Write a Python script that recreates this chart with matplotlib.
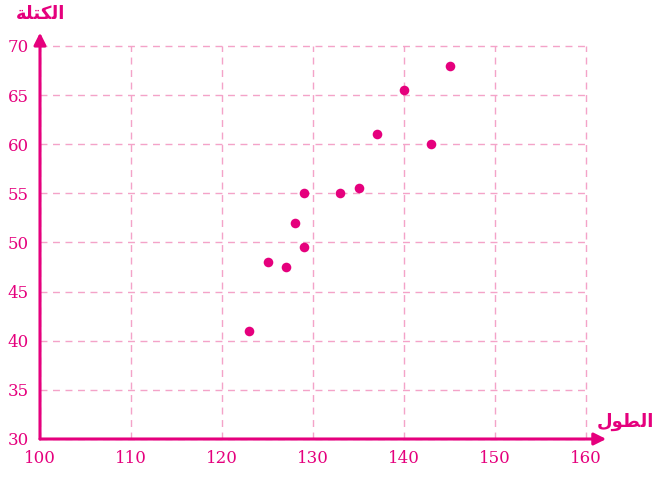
import matplotlib
matplotlib.use("Agg")
import matplotlib.pyplot as plt

MAG = "#e5007d"
GRID = "#f4a3c8"

# data
height = [123, 125, 127, 128, 129, 129, 133, 135, 137, 140, 143, 145]
mass = [41, 48, 47.5, 52, 49.5, 55, 55, 55.5, 61, 65.5, 60, 68]
xticks = [100, 110, 120, 130, 140, 150, 160]
yticks = [30, 35, 40, 45, 50, 55, 60, 65, 70]

# Arabic labels in visual order with presentation forms (matplotlib does no shaping)
ylab = "\ufe94\ufee0\ufe98\ufedc\ufedf\ufe8d"   # الكتلة
xlab = "\ufedd\ufeee\ufec4\ufedf\ufe8d"         # الطول

fig = plt.figure(figsize=(6.59, 4.78), dpi=100)
ax = fig.add_axes([40 / 659, 39 / 478, 546 / 659, 393 / 478])
ax.set_xlim(100, 160)
ax.set_ylim(30, 70)
ax.set_xticks(xticks)
ax.set_yticks(yticks)
for s in ax.spines.values():
    s.set_visible(False)
ax.tick_params(length=0, colors=MAG, labelsize=12, pad=8)
for lab in ax.get_xticklabels() + ax.get_yticklabels():
    lab.set_family("DejaVu Serif")
ax.grid(True, color=GRID, linestyle=(0, (5, 4)), linewidth=1.0)
for gl in ax.get_xgridlines() + ax.get_ygridlines():
    gl.set_clip_on(False)

ax.scatter(height, mass, s=48, color=MAG, zorder=5, linewidths=0)

# axis arrows
ax.annotate("", xy=(0, 1.034), xytext=(0, 0), xycoords="axes fraction",
            arrowprops=dict(arrowstyle="-|>", color=MAG, lw=2.2,
                            mutation_scale=18, shrinkA=0, shrinkB=0))
ax.annotate("", xy=(1.037, 0), xytext=(0, 0), xycoords="axes fraction",
            arrowprops=dict(arrowstyle="-|>", color=MAG, lw=2.2,
                            mutation_scale=18, shrinkA=0, shrinkB=0))

fig.text(41 / 659, 1 - 14 / 478, ylab, color=MAG, fontsize=13, fontweight="bold",
         ha="center", va="center", family="DejaVu Sans")
fig.text(625 / 659, 1 - 422 / 478, xlab, color=MAG, fontsize=13, fontweight="bold",
         ha="center", va="center", family="DejaVu Sans")

fig.savefig("out.png", dpi=100)
